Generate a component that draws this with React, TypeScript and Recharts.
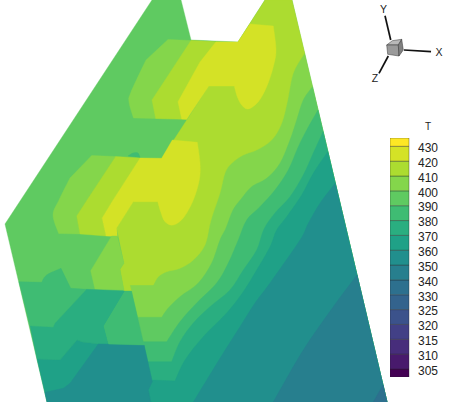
import React from 'react';
import { ScatterChart, Scatter, XAxis, YAxis, ReferenceDot, BarChart, Bar } from 'recharts';

type P = [number, number];

// Colours per temperature band
const C420 = '#d4e226', C410 = '#acdc30', C400 = '#84d64b', C390 = '#5fca61', C380 = '#3fbc73',
  C370 = '#2aae80', C360 = '#1fa187', C350 = '#218f8d', C340 = '#277f8e', C330 = '#2d708e';

// Contour regions (image-plane coordinates of the projected surface)
const outline: P[] = [[152, 0], [181, 0], [191, 40], [238, 42], [265, 0], [292, 0], [387, 402], [47, 402], [5, 224]];
const right400: P[] = [[304.7, 53], [387, 402], [151, 402], [147, 392], [152.3, 382], [144, 345], [130, 284], [160, 200], [292, 53]];
const big410: P[] = [[238, 42], [265, 0], [292, 0], [304.7, 53], [293.3, 73], [287.7, 100], [281.7, 123.3], [271.7, 140], [256.7, 150], [243.3, 155], [231.7, 163.3], [225, 173], [220, 193], [211, 220], [205, 245], [193.3, 260], [180, 268.3], [166.7, 271.7], [158.3, 276.7], [153.3, 285], [130, 285], [131.5, 291], [124, 291], [120, 269.3], [124, 263], [116.7, 228], [133, 202], [162, 158], [209, 86]];
const right390: P[] = [[312.5, 86.7], [303.3, 100], [296.7, 120], [290, 140], [280, 163.3], [266.7, 178.3], [251.7, 186.7], [241.7, 198.3], [233, 210], [226, 228], [220, 240], [211.7, 263], [198.3, 283], [180, 296.7], [168.3, 308], [161.7, 317.3], [137.5, 317.3], [144, 345], [152.3, 382], [147, 392], [151, 402], [387, 402]];
const right380: P[] = [[318, 110], [306.7, 130], [298.3, 146.7], [288.3, 170], [275, 190], [260, 206.7], [246.7, 220], [238.3, 240], [228.3, 263], [216.7, 283], [196.7, 303], [180, 321.7], [166.7, 341.7], [143.2, 341.7], [144, 345], [152.3, 382], [147, 392], [151, 402], [387, 402]];
const right370: P[] = [[323.1, 131.7], [313.3, 153], [303.3, 175], [290, 196.7], [275, 213], [264, 229], [256.7, 250], [243.3, 270], [230, 290], [210, 306.7], [193.3, 323], [180, 341.7], [171.7, 361.7], [147.8, 361.7], [152.3, 382], [147, 392], [151, 402], [387, 402]];
const right360: P[] = [[327.8, 151.7], [313.3, 173.3], [301.7, 195], [286.7, 216.7], [276.7, 230], [270, 247], [256.7, 270], [243.3, 291.7], [226.7, 313], [203.3, 336.7], [185, 360], [175, 381], [151.7, 380], [152.3, 382], [147, 392], [151, 402], [387, 402]];
const right350: P[] = [[335.2, 183.3], [320, 203.3], [308.3, 223.3], [300, 240], [270, 283], [255, 303], [240, 326.7], [223.3, 353], [206.7, 380], [193.3, 402], [387, 402]];
const right340: P[] = [[357, 275], [333.3, 306.7], [303.3, 350], [273.3, 402], [387, 402]];
const right330: P[] = [[383, 385], [373.3, 402], [387, 402]];

const upper400: P[] = [[168, 39.5], [191, 40.5], [216, 41.8], [186.7, 119.3], [133.5, 118], [129, 102], [131, 92], [146, 60]];
const upper410: P[] = [[191, 40.5], [216, 41.8], [186.7, 119.3], [155.7, 118.5], [152, 100]];
const upper420: P[] = [[216, 41.8], [238, 42], [250, 24], [273.3, 26], [276, 50], [273.3, 66.7], [266.7, 86.7], [258.3, 101.7], [248.3, 109], [241.7, 105], [237.3, 96.7], [234.3, 86], [209, 86], [186.7, 119.3], [181.7, 119], [178, 101.7], [200, 62]];
const patch380: P[] = [[128, 156], [133, 153], [138, 153], [140, 157.5]];

const mid400: P[] = [[91.7, 155.5], [115.7, 156.5], [87, 200], [76.7, 216], [80, 234], [58.7, 233.5], [53, 215], [59, 200], [70, 178]];
const mid410: P[] = [[115.7, 156.5], [140, 158], [113, 200], [102, 218], [106, 236], [80, 234], [76.7, 216], [87, 200]];
const mid420: P[] = [[140, 158], [161.7, 158.3], [172.3, 140], [197.3, 142.3], [200, 163.3], [199.3, 180], [193.3, 200], [183.3, 218], [173.3, 225], [165, 221.7], [160.7, 211.7], [157.7, 201.7], [133.3, 201.7], [116.7, 228], [117.3, 236.5], [106, 236], [102, 218], [113, 200]];
const strip400: P[] = [[111.7, 236], [117.3, 236], [124, 263.3], [120, 269.3], [124, 290], [95, 289.3], [90.7, 270.7]];

const low380: P[] = [[19, 281.7], [41.7, 282.3], [46.7, 275], [61, 268.3], [70.7, 288.3], [86.7, 289.3], [76.7, 300], [55, 323.3], [53.3, 327.3], [30, 326]];
const low370: P[] = [[30, 326], [53.3, 327.3], [55, 323.3], [76.7, 300], [86.7, 289.3], [125, 291], [104, 326], [108.7, 344], [98.3, 344], [82, 342], [77, 340], [60, 360], [37, 359]];
const low360: P[] = [[37, 359], [60, 360], [77, 340], [82, 342], [98.3, 344], [144, 345], [152.3, 381.7], [148.3, 390], [150.7, 402], [47, 402]];
const low350: P[] = [[98.3, 344], [144, 345], [152.3, 381.7], [148.3, 390], [150.7, 402], [47, 402], [45, 392.3], [63.3, 388.3], [70, 383.3]];
const block380: P[] = [[125, 291], [131.5, 291], [144, 345], [108.7, 344], [104, 326]];

// polygon, colour, and the vertex range whose edge is a smooth contour
const regions: [P[], string, number?, number?][] = [
  [outline, C390], [right400, C400], [big410, C410, 3, 19], [right390, C390, 0, 15], [right380, C380, 0, 12], [right370, C370, 0, 12],
  [right360, C360, 0, 11], [right350, C350, 0, 9], [right340, C340, 0, 3], [right330, C330],
  [upper400, C400, 4, 7], [upper410, C410], [upper420, C420, 3, 11], [patch380, C380, 0, 3],
  [mid400, C400, 5, 8], [mid410, C410], [mid420, C420, 3, 11], [strip400, C400],
  [low380, C380, 1, 3], [low370, C370], [low360, C360], [low350, C350], [block380, C380],
];

// Orientation triad
const axisX: P[] = [[404, 50], [431, 51.7]];
const axisY: P[] = [[390.7, 40], [385, 15.7]];
const axisZ: P[] = [[388.3, 56], [379, 73.3]];
const cubeTop: P[] = [[386.7, 45], [392.3, 40.7], [401.7, 39.3], [398.3, 45]];
const cubeFront: P[] = [[386.7, 45], [398.3, 45], [399, 56], [387.7, 54.3]];
const cubeSide: P[] = [[398.3, 45], [401.7, 39.3], [403.3, 50], [399, 56]];
const triadLabels: [string, number, number][] = [['X', 439, 52], ['Y', 383.5, 9], ['Z', 375, 78]];

// Colour bar
const barLabels = ['305', '310', '315', '320', '325', '330', '340', '350', '360', '370', '380', '390', '400', '410', '420', '430'];
const barFills = ['#440154', '#481a6c', '#472d7b', '#424086', '#3b528b', '#33638d', '#2d708e', '#277f8e', '#218f8d', '#1fa187', '#2aae80', '#3fbc73', '#5fca61', '#84d64b', '#acdc30', '#d4e226', '#fde725'];
const barSizes = [0.54, 1, 1, 1, 1, 1, 1, 1, 1, 1, 1, 1, 1, 1, 1, 1, 0.56];
const barKeys = barSizes.map((_, i) => 'b' + i);
const barRow: Record<string, number | string> = { name: 'T' };
barKeys.forEach((k, i) => { barRow[k] = barSizes[i]; });
const barTicks = barLabels.map((_, i) => 0.54 + i);

const toPts = (a: P[]) => a.map(([x, y]) => ({ x, y }));
const hidden = () => <g />;

const pathOf = (pts: { x: number; y: number }[], from = -1, to = -1) => {
  let d = `M${pts[0].x} ${pts[0].y}`;
  for (let i = 0; i + 1 < pts.length; i++) {
    const a = pts[i], b = pts[i + 1];
    if (i >= from && i + 1 <= to) {
      const p = pts[Math.max(i - 1, from)], q = pts[Math.min(i + 2, to)];
      const c1x = a.x + (b.x - p.x) / 6, c1y = a.y + (b.y - p.y) / 6;
      const c2x = b.x - (q.x - a.x) / 6, c2y = b.y - (q.y - a.y) / 6;
      d += ` C${c1x} ${c1y} ${c2x} ${c2y} ${b.x} ${b.y}`;
    } else {
      d += ` L${b.x} ${b.y}`;
    }
  }
  return d;
};

const filled = (color: string, edge?: string, from?: number, to?: number) => (props: any) => (
  <path d={pathOf(props.points, from, to) + ' Z'} fill={color} stroke={edge ?? color} strokeWidth={edge ? 0.5 : 0.4} strokeLinejoin="round" />
);
const stroked = (props: any) => <path d={pathOf(props.points)} fill="none" stroke="#111" strokeWidth={1.7} />;

const font = '"Liberation Sans", Arial, sans-serif';

export default function App() {
  return (
    <div style={{ position: 'absolute', left: 0, top: 0, width: 457, height: 402, overflow: 'hidden', background: '#fff' }}>
      <div style={{ position: 'absolute', left: 0, top: 0 }}>
        <ScatterChart width={457} height={402} margin={{ top: 0, right: 0, bottom: 0, left: 0 }}>
          <XAxis type="number" dataKey="x" domain={[0, 457]} hide allowDataOverflow />
          <YAxis type="number" dataKey="y" domain={[0, 402]} reversed hide allowDataOverflow />
          {regions.map(([poly, color, from, to], i) => (
            <Scatter key={i} data={toPts(poly)} line={filled(color, undefined, from, to)} shape={hidden} isAnimationActive={false} fill={color} />
          ))}
          <Scatter data={toPts(axisX)} line={stroked} shape={hidden} isAnimationActive={false} />
          <Scatter data={toPts(axisY)} line={stroked} shape={hidden} isAnimationActive={false} />
          <Scatter data={toPts(axisZ)} line={stroked} shape={hidden} isAnimationActive={false} />
          <Scatter data={toPts(cubeTop)} line={filled('#b9b9b9', '#333')} shape={hidden} isAnimationActive={false} />
          <Scatter data={toPts(cubeFront)} line={filled('#9a9a9a', '#333')} shape={hidden} isAnimationActive={false} />
          <Scatter data={toPts(cubeSide)} line={filled('#808080', '#333')} shape={hidden} isAnimationActive={false} />
          {triadLabels.map(([t, x, y]) => (
            <ReferenceDot key={t} x={x} y={y} r={0} stroke="none" ifOverflow="visible"
              label={{ value: t, position: 'center', fontSize: 10.5, fontFamily: font, fill: '#222' }} />
          ))}
          <ReferenceDot x={428} y={126} r={0} stroke="none" ifOverflow="visible"
            label={{ value: 'T', position: 'center', fontSize: 10, fontFamily: font, fill: '#222' }} />
        </ScatterChart>
      </div>
      <div style={{ position: 'absolute', left: 390, top: 138 }}>
        <BarChart width={67} height={239} data={[barRow]} barCategoryGap={0} margin={{ top: 0, right: 0, bottom: 0, left: 0 }}>
          <XAxis dataKey="name" hide />
          <YAxis
            orientation="right"
            type="number"
            domain={[0, barSizes.reduce((a, b) => a + b, 0)]}
            ticks={barTicks}
            interval={0}
            width={48}
            axisLine={false}
            tickLine={false}
            tickSize={0}
            tickMargin={9}
            tickFormatter={(v: number) => barLabels[Math.round(v - 0.54)]}
            tick={{ fontSize: 12, fontFamily: font, fill: '#222', textAnchor: 'start', dy: 1.5 }}
          />
          {barKeys.map((k, i) => (
            <Bar key={k} dataKey={k} stackId="t" fill={barFills[i]} stroke="#222" strokeOpacity={0.45} strokeWidth={0.8} isAnimationActive={false} />
          ))}
        </BarChart>
      </div>
    </div>
  );
}
